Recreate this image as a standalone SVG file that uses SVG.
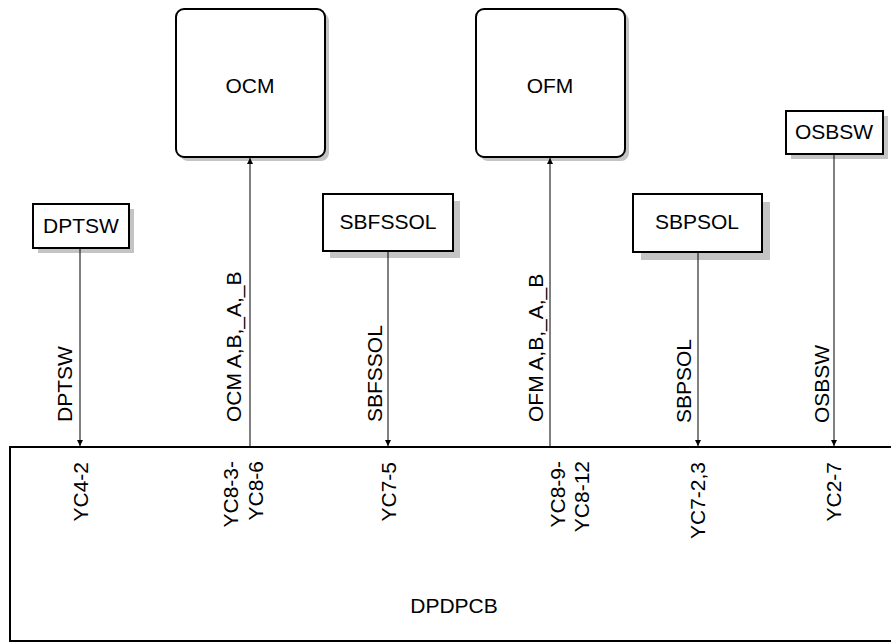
<svg xmlns="http://www.w3.org/2000/svg" width="891" height="643" viewBox="0 0 891 643">
<style>
text{font-family:"Liberation Sans",Arial,sans-serif;font-size:21px;fill:#000}
.c{text-anchor:middle}
.v{text-anchor:end}
.s{text-anchor:start}
.box{fill:#fff;stroke:#000;stroke-width:2}
.sh{fill:#c4c4c4;stroke:none}
.ln{stroke:#000;stroke-width:1;fill:none}
</style>
<defs>
<marker id="ah" viewBox="0 0 10 10" refX="10" refY="5" markerWidth="6" markerHeight="10" markerUnits="userSpaceOnUse" orient="auto">
<path d="M0,0 L10,5 L0,10 Z" fill="#000"/>
</marker>
</defs>
<g id="DPDPCB">
<path d="M891,447 H10 V641 H891" fill="#fff" stroke="#000" stroke-width="2"/>
<text class="c" x="454" y="613">DPDPCB</text>
<text class="v" transform="translate(88,462) rotate(-90)">YC4-2</text>
<text class="v" transform="translate(238,461) rotate(-90)">YC8-3-</text>
<text class="v" transform="translate(263,461) rotate(-90)">YC8-6</text>
<text class="v" transform="translate(396,462) rotate(-90)">YC7-5</text>
<text class="v" transform="translate(565,461) rotate(-90)">YC8-9-</text>
<text class="v" transform="translate(589,461) rotate(-90)">YC8-12</text>
<text class="v" transform="translate(705,462) rotate(-90)">YC7-2,3</text>
<text class="v" transform="translate(841,462) rotate(-90)">YC2-7</text>
</g>
<g id="OCM">
<rect class="sh" x="180" y="13" width="149" height="148" rx="8"/>
<rect class="box" x="176" y="9" width="149" height="148" rx="8"/>
<text class="c" x="250" y="93">OCM</text>
</g>
<g id="OFM">
<rect class="sh" x="480" y="13" width="149" height="148" rx="8"/>
<rect class="box" x="476" y="9" width="149" height="148" rx="8"/>
<text class="c" x="550" y="93">OFM</text>
</g>
<g id="DPTSW">
<rect class="sh" x="38" y="209" width="96" height="44"/>
<rect class="box" x="33" y="204" width="96" height="44"/>
<text class="c" x="81" y="233">DPTSW</text>
</g>
<g id="SBFSSOL">
<rect class="sh" x="330" y="201" width="130" height="57"/>
<rect class="box" x="323" y="194" width="130" height="57"/>
<text class="c" x="388" y="229">SBFSSOL</text>
</g>
<g id="SBPSOL">
<rect class="sh" x="641" y="202" width="129" height="58"/>
<rect class="box" x="633" y="194" width="129" height="58"/>
<text class="c" x="697" y="229">SBPSOL</text>
</g>
<g id="OSBSW">
<rect class="sh" x="791" y="116" width="97" height="43"/>
<rect class="box" x="786" y="111" width="97" height="43"/>
<text class="c" x="834" y="139">OSBSW</text>
</g>
<g id="connectors">
<line class="ln" x1="80" y1="249" x2="80" y2="446" marker-end="url(#ah)"/>
<line class="ln" x1="250" y1="446" x2="250" y2="158" marker-end="url(#ah)"/>
<line class="ln" x1="388" y1="252" x2="388" y2="446" marker-end="url(#ah)"/>
<line class="ln" x1="550" y1="446" x2="550" y2="158" marker-end="url(#ah)"/>
<line class="ln" x1="698" y1="253" x2="698" y2="446" marker-end="url(#ah)"/>
<line class="ln" x1="834" y1="155" x2="834" y2="446" marker-end="url(#ah)"/>
<text class="s" transform="translate(72,422) rotate(-90)">DPTSW</text>
<text class="s" transform="translate(241,422) rotate(-90)">OCM A,B,_A,_B</text>
<text class="s" transform="translate(382,422) rotate(-90)">SBFSSOL</text>
<text class="s" transform="translate(543,422) rotate(-90)">OFM A,B,_A,_B</text>
<text class="s" transform="translate(691,423) rotate(-90)">SBPSOL</text>
<text class="s" transform="translate(829,423) rotate(-90)">OSBSW</text>
</g>
</svg>
